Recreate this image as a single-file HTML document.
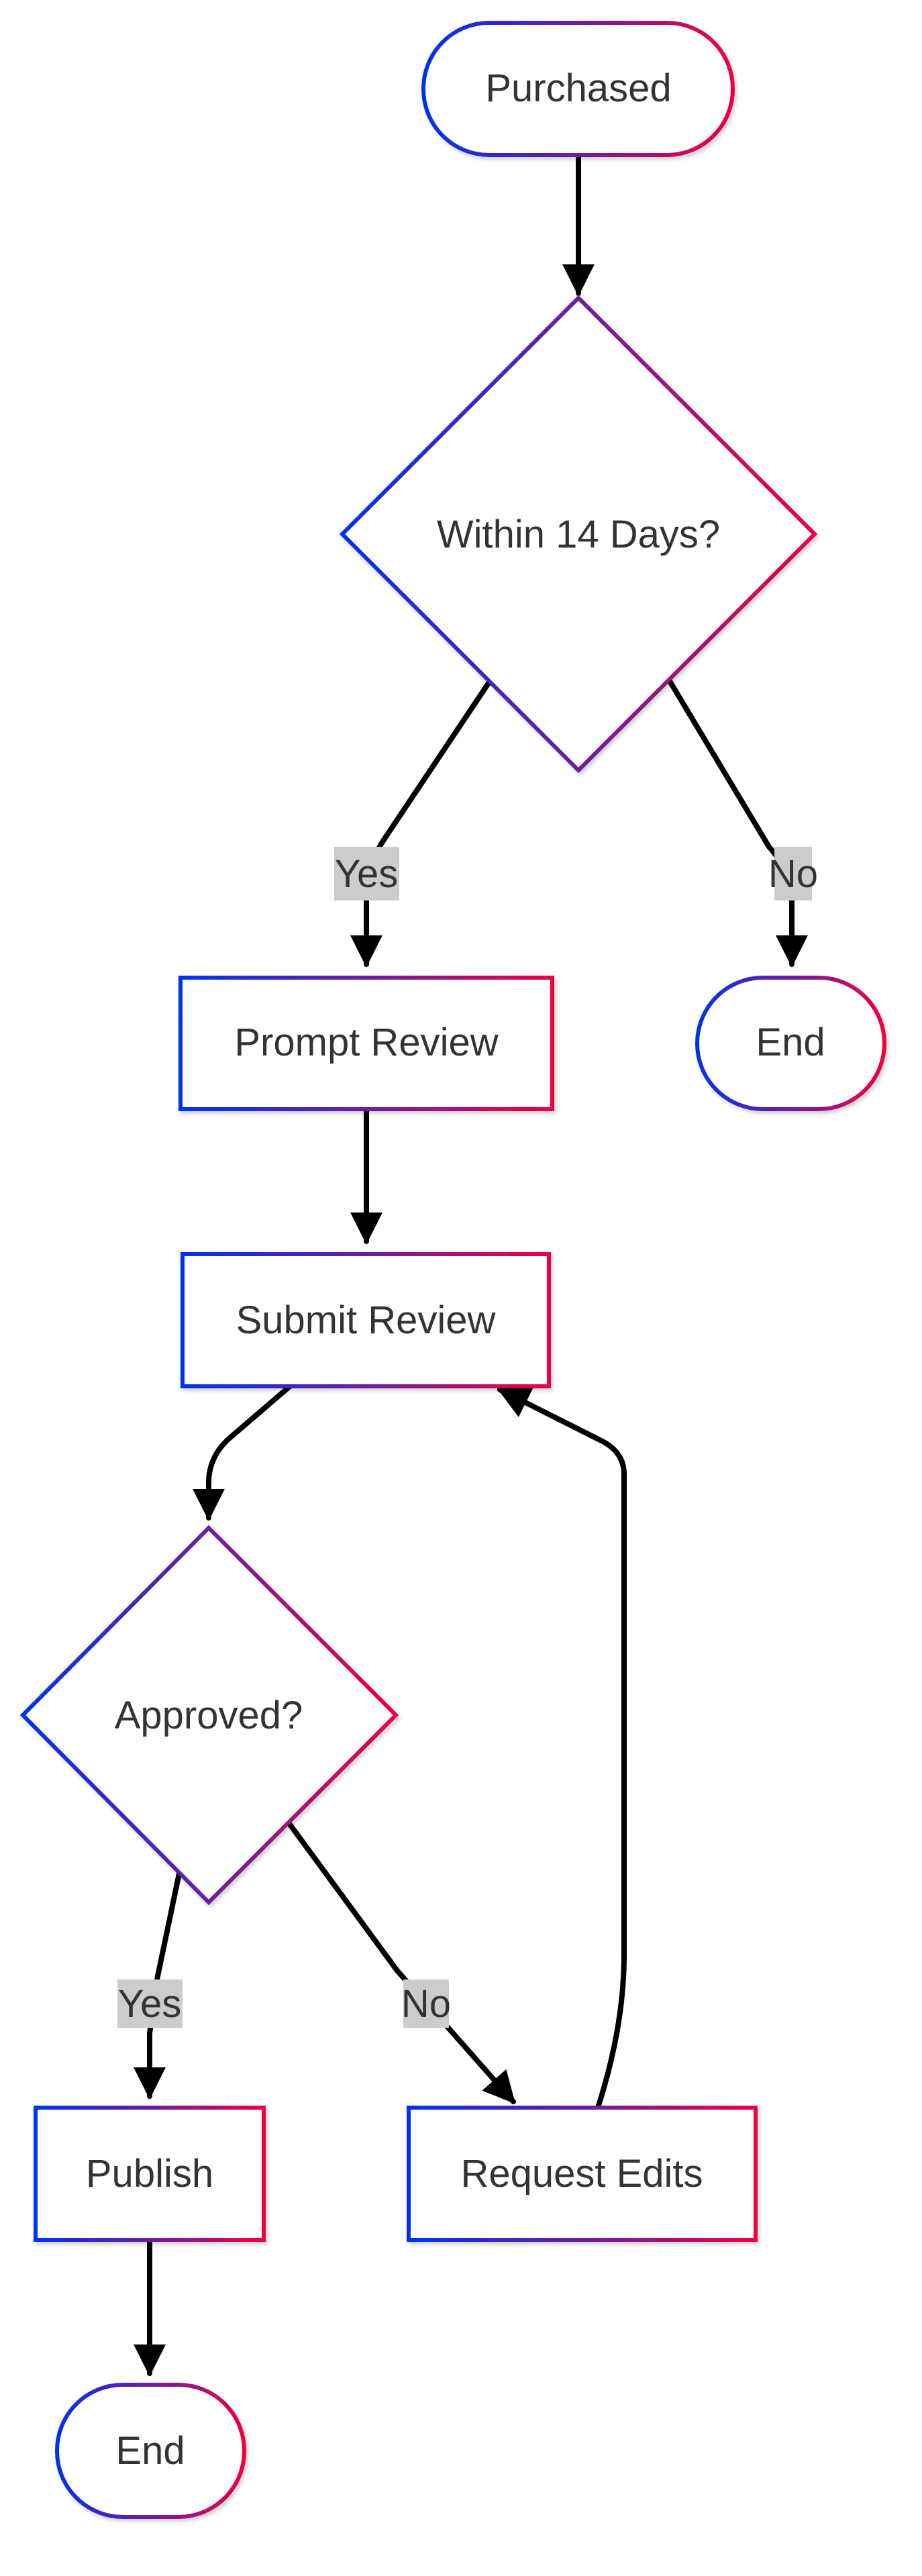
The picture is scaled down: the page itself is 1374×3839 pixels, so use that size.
<!DOCTYPE html>
<html><head><meta charset="utf-8"><style>
html,body{margin:0;padding:0;background:#fff;}
svg{display:block;}
text{font-family:"Liberation Sans",Arial,sans-serif;fill:#333;}
</style></head><body>
<svg width="1374" height="3839" viewBox="0 0 1374 3839" xmlns="http://www.w3.org/2000/svg">
<defs>
<linearGradient id="g" x1="0" y1="0" x2="1" y2="0">
<stop offset="0" stop-color="#0033ee"/><stop offset="0.5" stop-color="#6b1fa0"/><stop offset="1" stop-color="#ee0044"/>
</linearGradient>
<filter id="sh" x="-10%" y="-10%" width="130%" height="130%"><feDropShadow dx="3" dy="4" stdDeviation="3" flood-color="#000" flood-opacity="0.18"/></filter>
<marker id="ar" viewBox="0 0 10 10" refX="9" refY="5" markerWidth="6" markerHeight="7" orient="auto" markerUnits="strokeWidth"><path d="M0,0L10,5L0,10z" fill="#000"/></marker>
</defs>
<g fill="none" stroke="#000" stroke-width="8" stroke-linecap="round">
<path d="M862,231 L862,437" marker-end="url(#ar)"/>
<path d="M730,1015 L573,1250 Q546,1290 546,1340 L546,1437" marker-end="url(#ar)"/>
<path d="M998,1015 L1146,1262 Q1180,1300 1180,1345 L1180,1437" marker-end="url(#ar)"/>
<path d="M546,1653 L546,1850" marker-end="url(#ar)"/>
<path d="M432,2066 L340,2145 Q311,2172 311,2210 L311,2262" marker-end="url(#ar)"/>
<path d="M267,2792 L235,2945 L223,3030 L223,3124" marker-end="url(#ar)"/>
<path d="M432,2719 L592,2937 L675,3030 L765,3132" marker-end="url(#ar)"/>
<path d="M891,3141 Q930,3020 930,2913 L930,2197 Q930,2165 898,2148 L745,2071" marker-end="url(#ar)"/>
<path d="M223,3338 L223,3537" marker-end="url(#ar)"/>
</g>
<g fill="#fff" stroke="url(#g)" stroke-width="6" filter="url(#sh)">
<rect x="631" y="34" width="461" height="197" rx="98"/>
<polygon points="862,444 1214,796 862,1148 510,796"/>
<rect x="269" y="1457" width="554" height="196"/>
<rect x="1039" y="1457" width="279" height="196" rx="98"/>
<rect x="272" y="1869" width="546" height="197"/>
<polygon points="311,2277 590,2556 311,2835 34,2556"/>
<rect x="53" y="3141" width="340" height="197"/>
<rect x="609" y="3141" width="517" height="197"/>
<rect x="85" y="3554" width="279" height="197" rx="98"/>
</g>
<g fill="#cccccc">
<rect x="498" y="1262" width="97" height="80"/>
<rect x="1154" y="1262" width="56" height="80"/>
<rect x="175" y="2950" width="97" height="72"/>
<rect x="601" y="2950" width="68" height="72"/>
</g>
<g font-size="58" text-anchor="middle">
<text x="862" y="151">Purchased</text>
<text x="862" y="816">Within 14 Days?</text>
<text x="546" y="1573">Prompt Review</text>
<text x="1178" y="1573">End</text>
<text x="545" y="1987">Submit Review</text>
<text x="311" y="2576">Approved?</text>
<text x="223" y="3259">Publish</text>
<text x="867" y="3259">Request Edits</text>
<text x="224" y="3672">End</text>
<text x="546" y="1322">Yes</text>
<text x="1182" y="1322">No</text>
<text x="223" y="3006">Yes</text>
<text x="635" y="3006">No</text>
</g>
</svg>
</body></html>
